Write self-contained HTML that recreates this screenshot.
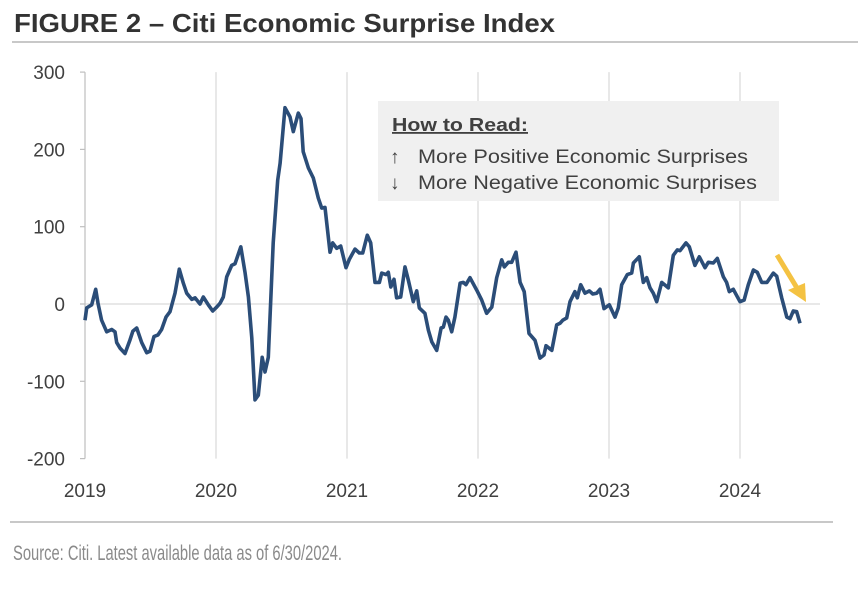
<!DOCTYPE html>
<html><head><meta charset="utf-8"><style>
body{margin:0;background:#fff;width:858px;height:586px;overflow:hidden;font-family:"Liberation Sans",sans-serif;}
</style></head><body>
<svg width="858" height="586" xmlns="http://www.w3.org/2000/svg">
<text x="14" y="32" font-size="26" font-weight="bold" fill="#333" textLength="541" lengthAdjust="spacingAndGlyphs" font-family="'Liberation Sans',sans-serif">FIGURE 2 – Citi Economic Surprise Index</text>
<line x1="12" y1="42" x2="858" y2="42" stroke="#c8c8c8" stroke-width="2"/>
<g id="grid"></g>
<g id="yaxis"></g>
<g id="xaxis"></g>
<rect x="378" y="101" width="401" height="100" fill="#f0f0f0"/>
<text x="392" y="131" font-size="18" font-weight="bold" fill="#404040" textLength="136" lengthAdjust="spacingAndGlyphs" text-decoration="underline">How to Read:</text>
<text x="390" y="163" font-size="19" fill="#404040">↑</text>
<text x="418" y="163" font-size="19" fill="#404040" textLength="330" lengthAdjust="spacingAndGlyphs">More Positive Economic Surprises</text>
<text x="390" y="189" font-size="19" fill="#404040">↓</text>
<text x="418" y="189" font-size="19" fill="#404040" textLength="339" lengthAdjust="spacingAndGlyphs">More Negative Economic Surprises</text>
<path id="series" fill="none" stroke="#2b4d78" stroke-width="3.6" stroke-linejoin="round"/>
<g>
<line x1="777" y1="255" x2="797" y2="288" stroke="#f4c242" stroke-width="5"/>
<polygon points="788,290 805,283 806,302" fill="#f4c242"/>
</g>
<line x1="10" y1="522" x2="833" y2="522" stroke="#c8c8c8" stroke-width="2"/>
<text x="13" y="560" font-size="21" fill="#8a8a8a" textLength="329" lengthAdjust="spacingAndGlyphs">Source: Citi. Latest available data as of 6/30/2024.</text>
</svg>
<script>
const yTicks=[300,200,100,0,-100,-200];
const xYears=[2019,2020,2021,2022,2023,2024];
const times=[0,.013,.051,.082,.099,.127,.166,.204,.229,.242,.267,.305,.344,.366,.395,.433,.471,.496,.527,.557,.585,.618,.649,.687,.720,.750,.776,.815,.840,.878,.903,.941,.975,1.005,1.031,1.056,1.082,1.120,1.145,1.189,1.221,1.247,1.273,1.298,1.323,1.353,1.374,1.399,1.437,1.471,1.489,1.527,1.565,1.590,1.628,1.649,1.666,1.705,1.743,1.781,1.807,1.832,1.870,1.891,1.921,1.952,1.992,2.018,2.061,2.094,2.120,2.155,2.181,2.214,2.247,2.265,2.298,2.315,2.334,2.359,2.379,2.410,2.443,2.468,2.506,2.532,2.552,2.595,2.621,2.647,2.685,2.718,2.735,2.756,2.773,2.799,2.824,2.863,2.888,2.908,2.939,2.990,3.028,3.066,3.105,3.143,3.181,3.201,3.231,3.257,3.290,3.321,3.353,3.389,3.435,3.473,3.504,3.519,3.563,3.601,3.626,3.647,3.677,3.702,3.740,3.758,3.784,3.817,3.850,3.876,3.906,3.931,3.962,4.002,4.046,4.071,4.097,4.140,4.173,4.186,4.231,4.262,4.288,4.313,4.338,4.364,4.402,4.453,4.491,4.521,4.542,4.588,4.613,4.656,4.689,4.733,4.758,4.796,4.827,4.873,4.898,4.918,4.949,5.000,5.031,5.063,5.102,5.132,5.166,5.206,5.254,5.280,5.318,5.357,5.382,5.407,5.433,5.458];
const values=[-21,-5,-1,19,1,-21,-36,-33,-36,-50,-57,-64,-46,-35,-31,-50,-63,-61,-42,-40,-33,-17,-10,14,45,27,14,6,8,0,9,-1,-9,-4,1,9,35,50,52,74,41,9,-44,-124,-118,-69,-88,-69,79,160,182,254,242,223,247,240,197,176,163,137,124,125,67,79,72,75,47,58,71,66,66,89,79,28,28,40,38,41,22,32,8,9,48,31,3,17,-5,-12,-34,-49,-60,-31,-30,-17,-21,-36,-17,27,28,25,34,18,5,-12,-4,34,57,48,54,54,67,28,16,-38,-47,-70,-66,-54,-60,-27,-25,-21,-18,3,16,8,25,14,17,13,14,19,-6,-1,-17,-5,25,38,40,53,61,28,34,21,14,3,28,21,63,70,69,79,74,50,61,47,54,53,59,35,28,16,19,3,5,25,44,41,28,28,40,36,8,-17,-19,-9,-10,-25];
const X0=85,PXY=131,Y0=304,PXV=0.773;
const xs=t=>X0+t*PXY, ys=v=>Y0-v*PXV;
const NS="http://www.w3.org/2000/svg";
function mk(tag,attrs,parent){const e=document.createElementNS(NS,tag);for(const k in attrs)e.setAttribute(k,attrs[k]);parent.appendChild(e);return e;}
const grid=document.getElementById('grid'),ya=document.getElementById('yaxis'),xa=document.getElementById('xaxis');
xYears.forEach((yr,i)=>{
  if(i>0){const g=mk('line',{x1:xs(i),x2:xs(i),y1:ys(300),y2:ys(-200),stroke:'#d9d9d9','stroke-width':1.2},grid);
  
  }
  const t=mk('text',{x:xs(i),y:497,'font-size':19,fill:'#404040','text-anchor':'middle'},xa);
  t.textContent=yr;
  
  
});
const z=mk('line',{x1:xs(0),x2:820,y1:ys(0),y2:ys(0),stroke:'#d9d9d9','stroke-width':1.2},grid);


const ax=mk('line',{x1:X0,x2:X0,y1:ys(300),y2:ys(-200),stroke:'#bfbfbf','stroke-width':1.2},ya);


yTicks.forEach(v=>{
  mk('line',{x1:X0-5,x2:X0,y1:ys(v),y2:ys(v),stroke:'#bfbfbf','stroke-width':1.2},ya);
  const t=mk('text',{x:65,y:ys(v)+7,'font-size':19,fill:'#404040','text-anchor':'end'},ya);
  t.textContent=v;
  
  
});
document.getElementById('series').setAttribute('d',times.map((t,i)=>(i?'L':'M')+xs(t).toFixed(1)+','+ys(values[i]).toFixed(1)).join(''));
</script>
</body></html>
